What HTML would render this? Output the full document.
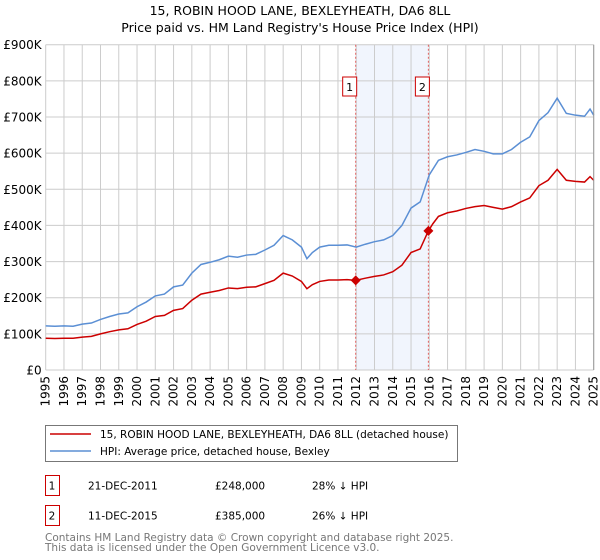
<!DOCTYPE html>
<html><head><meta charset="utf-8"><style>
body{margin:0;background:#fff;font-family:"DejaVu Sans","Liberation Sans",sans-serif;}
#wrap{position:relative;width:600px;height:560px;overflow:hidden}
svg text{font-family:"DejaVu Sans","Liberation Sans",sans-serif}
</style></head><body><div id="wrap">
<svg id="c" width="600" height="560"></svg>
</div>
<script>
const yearTicks=[1995,1996,1997,1998,1999,2000,2001,2002,2003,2004,2005,2006,2007,2008,2009,2010,2011,2012,2013,2014,2015,2016,2017,2018,2019,2020,2021,2022,2023,2024,2025];
const valueTicks=[0,100000,200000,300000,400000,500000,600000,700000,800000,900000];
const valueTickLabels=["£0","£100K","£200K","£300K","£400K","£500K","£600K","£700K","£800K","£900K"];
const hpiYears=[1995,1995.5,1996,1996.5,1997,1997.5,1998,1998.5,1999,1999.5,2000,2000.5,2001,2001.5,2002,2002.5,2003,2003.5,2004,2004.5,2005,2005.5,2006,2006.5,2007,2007.5,2008,2008.5,2009,2009.3,2009.6,2010,2010.5,2011,2011.5,2012,2012.5,2013,2013.5,2014,2014.5,2015,2015.5,2016,2016.5,2017,2017.5,2018,2018.5,2019,2019.5,2020,2020.5,2021,2021.5,2022,2022.5,2023,2023.5,2024,2024.5,2024.8,2025];
const hpiValues=[122000,121000,122000,121000,127000,130000,140000,148000,155000,158000,175000,188000,205000,210000,230000,235000,268000,292000,298000,305000,315000,312000,318000,320000,332000,345000,372000,360000,340000,308000,325000,340000,345000,345000,346000,340000,348000,355000,360000,372000,400000,448000,465000,540000,580000,590000,595000,602000,610000,605000,598000,598000,610000,630000,645000,690000,712000,752000,710000,705000,702000,722000,705000];
const ppdYears=[1995,1995.5,1996,1996.5,1997,1997.5,1998,1998.5,1999,1999.5,2000,2000.5,2001,2001.5,2002,2002.5,2003,2003.5,2004,2004.5,2005,2005.5,2006,2006.5,2007,2007.5,2008,2008.5,2009,2009.3,2009.6,2010,2010.5,2011,2011.5,2011.97,2012.5,2013,2013.5,2014,2014.5,2015,2015.5,2015.95,2016.2,2016.5,2017,2017.5,2018,2018.5,2019,2019.5,2020,2020.5,2021,2021.5,2022,2022.5,2023,2023.5,2024,2024.5,2024.8,2025];
const ppdValues=[88000,87000,88000,88000,91000,93000,100000,106000,111000,114000,126000,135000,148000,151000,165000,170000,193000,210000,215000,220000,227000,225000,229000,230000,239000,248000,268000,260000,245000,225000,236000,245000,249000,249000,250000,248000,254000,259000,263000,272000,290000,325000,335000,385000,405000,425000,435000,440000,447000,452000,455000,450000,445000,452000,465000,476000,510000,525000,555000,525000,522000,520000,535000,525000];
const saleYears=[2011.97,2015.95];
const saleValues=[248000,385000];
const saleLabels=["1","2"];
const saleDates=["21-DEC-2011","11-DEC-2015"];
const salePrices=["£248,000","£385,000"];
const saleDiffs=["28% ↓ HPI","26% ↓ HPI"];

const NS="http://www.w3.org/2000/svg";
const svg=document.getElementById('c');
const X0=45.7,X1=593.7,Y0=370,Y1=44.7;
const x=y=>X0+(y-1995)/30*(X1-X0);
const yv=v=>Y0-v/900000*(Y0-Y1);
function mk(tag,attrs,parent){const e=document.createElementNS(NS,tag);for(const k in attrs)e.setAttribute(k,attrs[k]);(parent||svg).appendChild(e);return e;}

let t=mk('text',{x:300,y:15,'text-anchor':'middle','font-size':'12.5',fill:'#000'});t.textContent="15, ROBIN HOOD LANE, BEXLEYHEATH, DA6 8LL";


t=mk('text',{x:300,y:32,'text-anchor':'middle','font-size':'12.5',fill:'#000'});t.textContent="Price paid vs. HM Land Registry's House Price Index (HPI)";



let r=mk('rect',{x:x(saleYears[0]),y:Y1,width:x(saleYears[1])-x(saleYears[0]),height:Y0-Y1,fill:'#eef3fd',opacity:0.8});



yearTicks.forEach((yr,i)=>{
  const g=mk('line',{x1:x(yr),x2:x(yr),y1:Y1,y2:Y0,stroke:'#cccccc','stroke-width':1});
  
  
  const tx=mk('text',{transform:`translate(${x(yr)+4},${Y0+6}) rotate(-90)`,'text-anchor':'end','font-size':'12',fill:'#000'});
  tx.textContent=yr;
  
  
});
valueTicks.forEach((v,i)=>{
  const g=mk('line',{x1:X0,x2:X1,y1:yv(v),y2:yv(v),stroke:'#cccccc','stroke-width':1});
  
  
  const tx=mk('text',{x:X0-4,y:yv(v)+4.5,'text-anchor':'end','font-size':'12',fill:'#000'});
  tx.textContent=valueTickLabels[i];
  
  
});

saleYears.forEach((yr,i)=>{
  const l=mk('line',{x1:x(yr),x2:x(yr),y1:Y1,y2:Y0,stroke:'#e06060','stroke-width':1,'stroke-dasharray':'2,2'});
  
  
});

let p=mk('polyline',{points:hpiYears.map((yr,i)=>x(yr)+','+yv(hpiValues[i])).join(' '),fill:'none',stroke:'#5b8fd4','stroke-width':1.5});


p=mk('polyline',{points:ppdYears.map((yr,i)=>x(yr)+','+yv(ppdValues[i])).join(' '),fill:'none',stroke:'#cc0000','stroke-width':1.5});



saleYears.forEach((yr,i)=>{
  const cx=x(yr),cy=yv(saleValues[i]);
  const d=mk('polygon',{points:`${cx},${cy-5} ${cx+5},${cy} ${cx},${cy+5} ${cx-5},${cy}`,fill:'#cc0000'});
  
  
  const b=mk('rect',{x:cx-13,y:77,width:14,height:19,fill:'#fff',stroke:'#cc0000','stroke-width':1});
  
  
  const bt=mk('text',{x:cx-6,y:91,'text-anchor':'middle','font-size':'11',fill:'#000'});
  bt.textContent=saleLabels[i];
  
  
});
let ax=mk('line',{x1:X1,x2:X1,y1:Y1,y2:Y0,stroke:'#999','stroke-width':1});



// legend
let lg=mk('rect',{x:45.5,y:425.5,width:412,height:36,fill:'#fff',stroke:'#777','stroke-width':1});


let ll=mk('line',{x1:50,x2:91,y1:434,y2:434,stroke:'#cc0000','stroke-width':1.5});


t=mk('text',{x:100,y:438,'font-size':'10.5',fill:'#000'});t.textContent="15, ROBIN HOOD LANE, BEXLEYHEATH, DA6 8LL (detached house)";


ll=mk('line',{x1:50,x2:91,y1:451,y2:451,stroke:'#5b8fd4','stroke-width':1.5});


t=mk('text',{x:100,y:455,'font-size':'10.5',fill:'#000'});t.textContent="HPI: Average price, detached house, Bexley";



// table
saleLabels.forEach((lab,i)=>{
  const y0=475.5+i*30;
  const b=mk('rect',{x:45.5,y:y0,width:14,height:20,fill:'#fff',stroke:'#cc0000','stroke-width':1});
  
  
  const cols=[[52,lab,'middle'],[88,saleDates[i],'start'],[215,salePrices[i],'start'],[312,saleDiffs[i],'start']];
  cols.forEach(c=>{
    const tt=mk('text',{x:c[0],y:y0+14,'text-anchor':c[2],'font-size':'10.5',fill:'#000'});
    tt.textContent=c[1];
    
    
  });
});
t=mk('text',{x:45,y:541,'font-size':'10.5',fill:'#777'});t.textContent="Contains HM Land Registry data © Crown copyright and database right 2025.";


t=mk('text',{x:45,y:551,'font-size':'10.5',fill:'#777'});t.textContent="This data is licensed under the Open Government Licence v3.0.";


</script></body></html>
